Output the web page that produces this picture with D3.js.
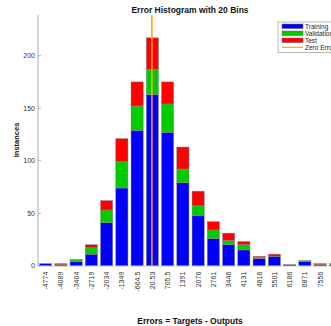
<!DOCTYPE html>
<html lang="en">
<head>
    <meta charset="UTF-8">
    <title>Error Histogram</title>
    <script src="https://cdn.jsdelivr.net/npm/d3@7/dist/d3.min.js"></script>
    <style>
        body { margin: 0; background: #fff; }
        svg { display: block; font-family: "Liberation Sans", Arial, sans-serif; }
        .title, .xlabel, .ylabel { font-weight: bold; fill: #111; }
        .tick-label { fill: #333; font-size: 7px; }
        .axis-line { stroke: #c8c8c8; stroke-width: 1.5; }
        .bar { stroke: #8c8c8c; stroke-width: 0.5; }
        .zero-line { stroke: #ffa020; stroke-width: 1.6; }
        .legend-box { fill: #fff; stroke: #999; stroke-width: 0.7; }
        .legend-text { font-size: 6.5px; fill: #222; }
    </style>
</head>
<body>
<svg width="331" height="326"></svg>
<script>
    // bin labels and centers
    var binLabels = ['-4774', '-4089', '-3404', '-2719', '-2034', '-1349', '-664.5', '20.53', '705.5', '1391',
                     '2076', '2761', '3446', '4131', '4816', '5501', '6186', '6871', '7556', '8241'];
    var binCenters = [-4774, -4089, -3404, -2719, -2034, -1349, -664.5, 20.53, 705.5, 1391,
                      2076, 2761, 3446, 4131, 4816, 5501, 6186, 6871, 7556, 8241];

    // counts per bin
    var training   = [2, 1, 4, 11, 41, 74, 129, 163, 127, 79, 48, 26, 20, 15, 7, 9, 1, 4, 1, 1];
    var validation = [0, 0, 2, 6, 12, 25, 23, 24, 27, 13, 9, 8, 4, 5, 1, 0, 0, 1, 0, 1];
    var test       = [0, 1, 0, 3, 9, 22, 23, 30, 21, 21, 14, 8, 7, 3, 1, 2, 0, 0, 1, 0];

    var seriesNames = ['Training', 'Validation', 'Test'];
    var seriesColors = ['#0000ff', '#00cc00', '#ff0000'];
    var yTicks = [0, 50, 100, 150, 200];

    var svg = d3.select('svg'),
        plotL = 38, plotR = 343, plotT = 15, plotB = 265.7;

    var rows = binLabels.map(function(l, i) {
        return { label: l, Training: training[i], Validation: validation[i], Test: test[i] };
    });
    var stacked = d3.stack().keys(seriesNames)(rows);

    var totals = rows.map(function(r) { return r.Training + r.Validation + r.Test; });

    var x = d3.scaleBand()
        .domain(binLabels)
        .range([plotL, plotR])
        .paddingInner(0.2)
        .paddingOuter(0.1);

    var y = d3.scaleLinear()
        .domain([0, d3.max(totals) * 1.1])
        .range([plotB, plotT]);

    // value -> pixel along the bin centers, for the zero error line
    var xv = d3.scaleLinear()
        .domain([binCenters[0], binCenters[binCenters.length - 1]])
        .range([x(binLabels[0]) + x.bandwidth() / 2,
                x(binLabels[binLabels.length - 1]) + x.bandwidth() / 2]);

    // axes lines
    svg.append('line').attr('class', 'axis-line')
        .attr('x1', plotL).attr('x2', plotL).attr('y1', plotT).attr('y2', plotB);
    svg.append('line').attr('class', 'axis-line')
        .attr('x1', plotL).attr('x2', plotR).attr('y1', plotB + 0.5).attr('y2', plotB + 0.5)
        .style('stroke-width', 0.8);

    // bars
    svg.append('g').selectAll('g')
        .data(stacked)
        .join('g')
        .attr('fill', function(d, i) { return seriesColors[i]; })
        .selectAll('rect')
        .data(function(d) { return d; })
        .join('rect')
        .attr('class', 'bar')
        .attr('x', function(d) { return x(d.data.label); })
        .attr('width', x.bandwidth())
        .attr('y', function(d) { return y(d[1]); })
        .attr('height', function(d) { return y(d[0]) - y(d[1]); })
        .style('stroke-opacity', function(d) { return d[1] - d[0] > 0 ? 1 : 0; });

    // zero error line
    svg.append('line').attr('class', 'zero-line')
        .attr('x1', xv(0)).attr('x2', xv(0))
        .attr('y1', plotT).attr('y2', plotB);

    // y ticks
    var yg = svg.append('g');
    yTicks.forEach(function(t) {
        yg.append('line')
            .attr('x1', plotL).attr('x2', plotL + 3)
            .attr('y1', y(t)).attr('y2', y(t))
            .attr('stroke', '#888').attr('stroke-width', 0.6);
        yg.append('text')
            .attr('class', 'tick-label')
            .attr('x', plotL - 3)
            .attr('y', y(t))
            .attr('dy', '0.35em')
            .attr('text-anchor', 'end')
            .text(t);
    });

    // x tick labels, rotated
    svg.append('g').selectAll('text')
        .data(binLabels)
        .join('text')
        .attr('class', 'tick-label')
        .attr('transform', function(d) {
            return 'translate(' + (x(d) + x.bandwidth() / 2 + 2.5) + ',' + (plotB + 6) + ') rotate(-90)';
        })
        .attr('text-anchor', 'end')
        .text(function(d) { return d; });

    // titles
    svg.append('text').attr('class', 'title')
        .attr('x', 190).attr('y', 12.5)
        .attr('text-anchor', 'middle')
        .style('font-size', '8.5px')
        .text('Error Histogram with 20 Bins');

    svg.append('text').attr('class', 'xlabel')
        .attr('x', 190).attr('y', 324)
        .attr('text-anchor', 'middle')
        .style('font-size', '8.5px')
        .text('Errors = Targets - Outputs');

    svg.append('text').attr('class', 'ylabel')
        .attr('transform', 'translate(19,140) rotate(-90)')
        .attr('text-anchor', 'middle')
        .style('font-size', '7.5px')
        .text('Instances');

    // legend
    var lg = svg.append('g').attr('transform', 'translate(278,22)');
    lg.append('rect').attr('class', 'legend-box')
        .attr('x', 0).attr('y', 0).attr('width', 70).attr('height', 30.5);
    var legendNames = seriesNames.concat(['Zero Error']);
    legendNames.forEach(function(name, i) {
        var ry = 4.3 + i * 7;
        if (i < 3) {
            lg.append('rect')
                .attr('x', 4).attr('y', ry - 2.3)
                .attr('width', 21).attr('height', 4.6)
                .attr('fill', seriesColors[i])
                .attr('stroke', '#666').attr('stroke-width', 0.5);
        } else {
            lg.append('line').attr('class', 'zero-line')
                .attr('x1', 4).attr('x2', 25).attr('y1', ry).attr('y2', ry)
                .style('stroke-width', 1.2);
        }
        lg.append('text').attr('class', 'legend-text')
            .attr('x', 27).attr('y', ry).attr('dy', '0.35em')
            .text(name);
    });
</script>
</body>
</html>
